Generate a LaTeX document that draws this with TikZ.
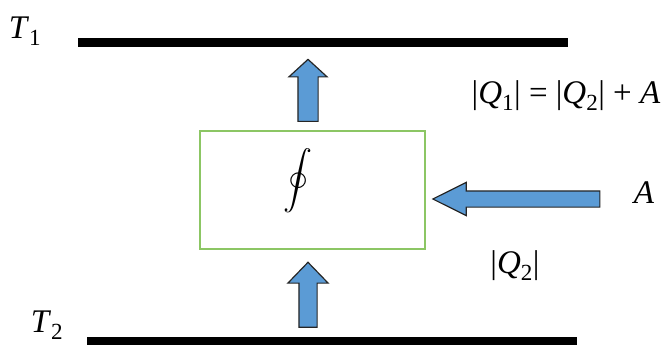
\documentclass[tikz,border=0pt]{standalone}
\usepackage{fontspec}
\setmainfont{Liberation Serif}
\newfontfamily\timesfont{Liberation Serif}
\usetikzlibrary{shapes.arrows}
\definecolor{arrowblue}{RGB}{91,155,213}
\definecolor{boxgreen}{RGB}{140,198,100}
\tikzset{
  plate/.style={line width=9pt},
  fatarrow/.style={single arrow, draw=black!85, fill=arrowblue, line width=1.2pt,
    inner xsep=0pt},
  lbl/.style={inner sep=0pt, font=\timesfont\fontsize{33}{36}\selectfont}
}
\begin{document}
\begin{tikzpicture}[x=1pt,y=-1pt]
    \useasboundingbox (0,0) rectangle (669,345);
    % reservoirs
    \draw [plate] (78,42.5) -- (568,42.5);
    \draw [plate] (87,341) -- (577,341);
    \node [lbl] (t1) at (25,31) {\textit{T}\textsubscript{1}};
    \node [lbl] (t2) at (47,325) {\textit{T}\textsubscript{2}};
    % engine
    \node [draw=boxgreen, line width=1.8pt, minimum width=225pt, minimum height=118pt] (eng) at (312.5,190) {};
    \node [inner sep=0pt, scale=2.9] (cyc) at (298,181) {$\displaystyle\oint$};
    % heat and work arrows
    \node [fatarrow, rotate=90, minimum height=62pt, inner ysep=9.5pt,
      single arrow head extend=9pt, single arrow tip angle=95] (q1arr) at (308,95) {};
    \node [fatarrow, rotate=90, minimum height=65pt, inner ysep=8.5pt,
      single arrow head extend=11pt, single arrow tip angle=88] (q2arr) at (308,299.5) {};
    \node [fatarrow, rotate=180, minimum height=167pt, inner ysep=7.5pt,
      single arrow head extend=8.5pt, single arrow tip angle=53] (warr) at (524.5,199) {};
    % labels
    \node [lbl] (q1) at (566,96) {|\textit{Q}\textsubscript{1}| = |\textit{Q}\textsubscript{2}| + \textit{A}};
    \node [lbl] (a) at (644,193) {\textit{A}};
    \node [lbl] (q2) at (515,266) {|\textit{Q}\textsubscript{2}|};
\end{tikzpicture}
\end{document}
